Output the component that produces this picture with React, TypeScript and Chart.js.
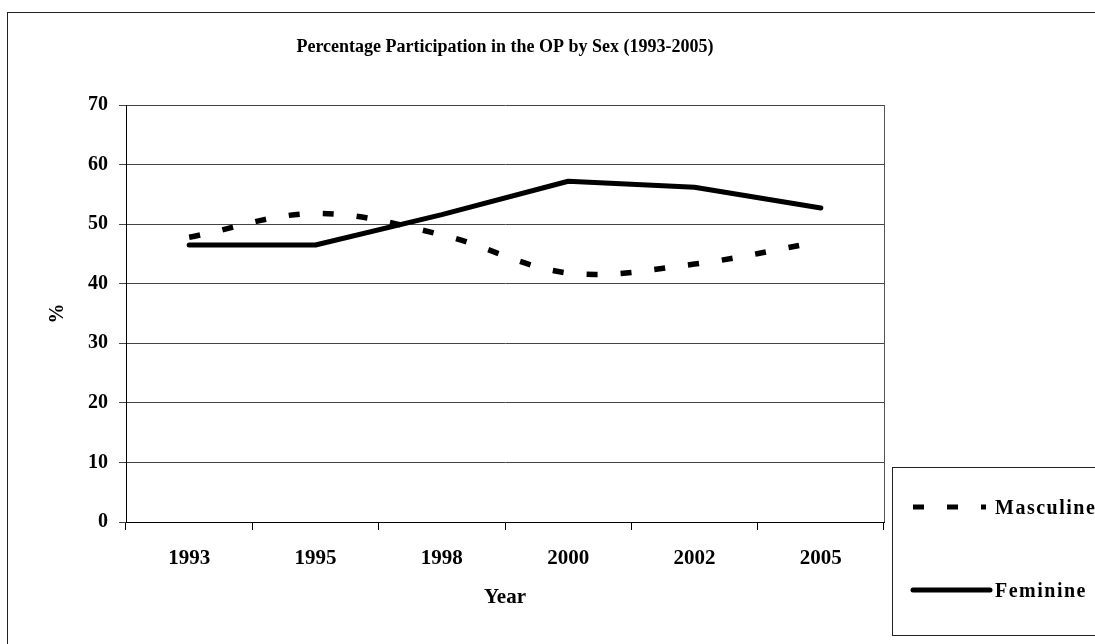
import React, { useEffect, useRef } from "react";
import { Chart, registerables } from "chart.js";

Chart.register(...registerables);

const years = ["1993", "1995", "1998", "2000", "2002", "2005"];
const masculine = [47.8, 51.8, 48.2, 41.8, 43.3, 47.1];
const feminine = [46.5, 46.5, 51.6, 57.2, 56.2, 52.7];
const seriesNames = ["Masculine", "Feminine"];
const titleText = "Percentage Participation in the OP by Sex (1993-2005)";
const xTitle = "Year";
const yTitle = "%";

const FONT = "'Liberation Serif', 'Times New Roman', serif";

const overlay = {
  id: "overlay",
  afterDraw(chart: any) {
    const ctx = chart.ctx;
    const a = chart.chartArea;
    ctx.save();
    // outer border
    ctx.strokeStyle = "#222";
    ctx.lineWidth = 1;
    ctx.strokeRect(7.5, 12.5, 1200, 700);
    // plot right border
    ctx.strokeStyle = "#555";
    ctx.beginPath();
    ctx.moveTo(Math.round(a.right) + 0.5, a.top);
    ctx.lineTo(Math.round(a.right) + 0.5, a.bottom);
    ctx.stroke();
    // title
    ctx.fillStyle = "#000";
    ctx.font = `bold 18px ${FONT}`;
    ctx.textAlign = "center";
    ctx.textBaseline = "middle";
    ctx.fillText(titleText, (a.left + a.right) / 2, 47);
    // x title
    ctx.font = `bold 21px ${FONT}`;
    ctx.fillText(xTitle, (a.left + a.right) / 2, 598);
    // y title
    ctx.save();
    ctx.translate(58, (a.top + a.bottom) / 2);
    ctx.rotate(-Math.PI / 2);
    ctx.font = `bold 20px ${FONT}`;
    ctx.fillText(yTitle, 0, 0);
    ctx.restore();
    // legend box
    ctx.strokeStyle = "#222";
    ctx.lineWidth = 1;
    ctx.strokeRect(892.5, 467.5, 400, 168);
    // masculine sample
    ctx.strokeStyle = "#000";
    ctx.lineWidth = 5;
    ctx.lineCap = "butt";
    ctx.setLineDash([11, 23]);
    ctx.beginPath();
    ctx.moveTo(913, 507);
    ctx.lineTo(986, 507);
    ctx.stroke();
    ctx.setLineDash([]);
    // feminine sample
    ctx.lineCap = "round";
    ctx.beginPath();
    ctx.moveTo(913, 590);
    ctx.lineTo(990, 590);
    ctx.stroke();
    ctx.textAlign = "left";
    ctx.font = `bold 20px ${FONT}`;
    try {
      ctx.letterSpacing = "1.5px";
    } catch (e) {}
    ctx.fillText(seriesNames[0], 995, 509);
    ctx.fillText(seriesNames[1], 995, 592);
    ctx.restore();
  },
};

export default function App() {
  const ref = useRef<HTMLCanvasElement | null>(null);
  useEffect(() => {
    if (!ref.current) return;
    const chart = new Chart(ref.current, {
      type: "line",
      data: {
        labels: years,
        datasets: [
          {
            label: seriesNames[0],
            data: masculine,
            borderColor: "#000",
            borderWidth: 5.5,
            borderDash: [11, 23],
            borderCapStyle: "butt",
            tension: 0.35,
            pointRadius: 0,
            fill: false,
          },
          {
            label: seriesNames[1],
            data: feminine,
            borderColor: "#000",
            borderWidth: 5,
            borderCapStyle: "round",
            borderJoinStyle: "round",
            tension: 0,
            pointRadius: 0,
            fill: false,
          },
        ],
      },
      options: {
        responsive: false,
        animation: false,
        layout: { padding: { left: 66, top: 105, right: 211, bottom: 42 } },
        plugins: {
          legend: { display: false },
          title: { display: false },
          tooltip: { enabled: false },
        },
        scales: {
          x: {
            type: "category",
            offset: true,
            afterFit: (s: any) => {
              s.height = 80;
            },
            grid: {
              offset: true,
              drawOnChartArea: false,
              drawTicks: true,
              tickLength: 8,
              color: "#000",
            },
            border: { color: "#000", width: 1 },
            ticks: {
              color: "#000",
              padding: 16,
              font: { family: FONT, size: 21, weight: "bold" },
            },
          },
          y: {
            min: 0,
            max: 70,
            afterFit: (s: any) => {
              s.width = 60;
            },
            grid: {
              color: "#444",
              lineWidth: 1,
              drawTicks: true,
              tickLength: 7,
            },
            border: { color: "#000", width: 1 },
            ticks: {
              stepSize: 10,
              color: "#000",
              padding: 11,
              font: { family: FONT, size: 20, weight: "bold" },
            },
          },
        },
      },
      plugins: [overlay],
    });
    return () => chart.destroy();
  }, []);
  return (
    <div style={{ position: "absolute", left: 0, top: 0, width: 1095, height: 644, background: "#fff" }}>
      <canvas ref={ref} width={1095} height={644} style={{ display: "block" }} />
    </div>
  );
}
